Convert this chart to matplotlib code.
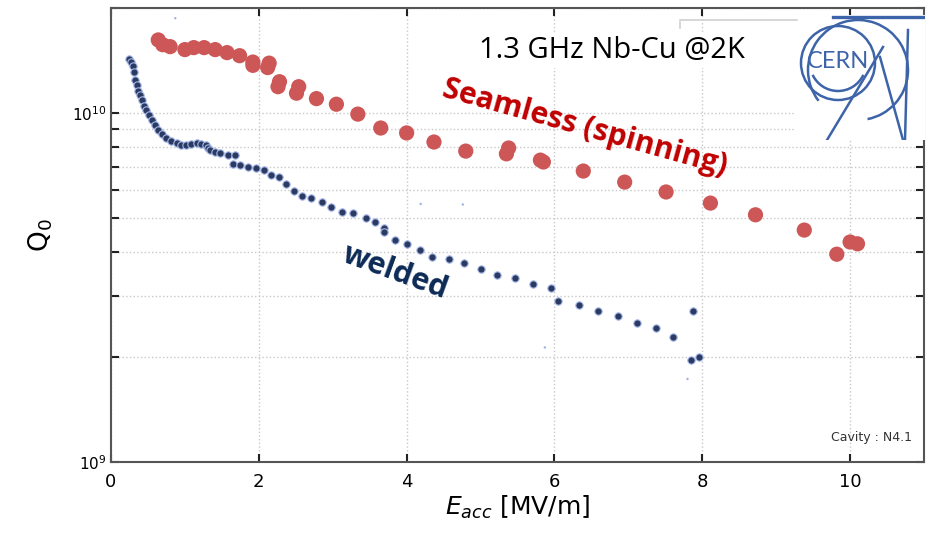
# Q0 vs accelerating field for a 1.3 GHz Nb-Cu cavity at 2K (seamless vs welded)
import matplotlib
matplotlib.use("Agg")
import matplotlib.pyplot as plt
from matplotlib.patches import Circle, Arc
from matplotlib.lines import Line2D
from matplotlib.ticker import LogLocator, NullFormatter

# Seamless (spinning) cavity: Eacc [MV/m], Q0 [1e9]
seamless_e = [0.64, 0.70, 0.80, 1.00, 1.12, 1.26, 1.41, 1.57, 1.74, 1.92, 1.92, 2.14,
              2.12, 2.28, 2.26, 2.54, 2.51, 2.78, 3.05, 3.34, 3.65, 4.00, 4.37, 4.80,
              5.38, 5.35, 5.81, 5.85, 6.39, 6.95, 7.51, 8.11, 8.72, 9.38, 9.82, 10.00, 10.10]
seamless_q = [16.2, 15.7, 15.5, 15.2, 15.4, 15.4, 15.2, 14.9, 14.6, 14.0, 13.7, 13.9,
              13.5, 12.3, 11.9, 11.9, 11.4, 11.0, 10.6, 9.93, 9.06, 8.77, 8.26, 7.78,
              7.94, 7.64, 7.33, 7.24, 6.82, 6.34, 5.94, 5.52, 5.11, 4.62, 3.94, 4.27, 4.22]

# Welded cavity
welded_e = [0.25, 0.27, 0.30, 0.31, 0.32, 0.35, 0.37, 0.39, 0.42, 0.45, 0.48, 0.51,
            0.55, 0.60, 0.64, 0.69, 0.75, 0.81, 0.89, 0.95, 1.02, 1.08, 1.16, 1.22,
            1.29, 1.31, 1.34, 1.41, 1.47, 1.59, 1.68, 1.65, 1.74, 1.86, 1.96, 2.07,
            2.17, 2.28, 2.37, 2.47, 2.58, 2.71, 2.85, 2.98, 3.12, 3.28, 3.45, 3.57,
            3.69, 3.70, 3.84, 4.00, 4.18, 4.35, 4.57, 4.78, 5.01, 5.22, 5.46, 5.71,
            5.96, 6.05, 6.33, 6.59, 6.86, 7.12, 7.38, 7.61, 7.87, 7.85, 7.95]
welded_q = [14.3, 14.0, 13.6, 13.1, 12.4, 12.0, 11.6, 11.3, 10.9, 10.5, 10.2, 9.87,
            9.55, 9.24, 8.94, 8.71, 8.46, 8.31, 8.19, 8.12, 8.09, 8.15, 8.19, 8.15,
            8.09, 7.94, 7.83, 7.73, 7.66, 7.58, 7.58, 7.13, 7.10, 7.02, 6.97, 6.87,
            6.64, 6.57, 6.25, 5.98, 5.80, 5.70, 5.57, 5.39, 5.21, 5.17, 5.01, 4.88,
            4.68, 4.57, 4.33, 4.21, 4.05, 3.88, 3.82, 3.71, 3.57, 3.43, 3.37, 3.24,
            3.15, 2.90, 2.82, 2.71, 2.62, 2.50, 2.42, 2.28, 2.70, 1.96, 2.00]

# faint stray specks in the original scan
speck_e = [0.87, 4.19, 4.76, 5.87, 7.80]
speck_q = [18.7, 5.49, 5.47, 2.13, 1.73]

x_ticks = [0, 2, 4, 6, 8, 10]


def draw_logo(fig):
    # rough CERN logo in pixel-like coordinates (130 x 125 box)
    lg = fig.add_axes([795 / 931, 1 - 140 / 545, 130 / 931, 125 / 545])
    lg.set_xlim(0, 130)
    lg.set_ylim(0, 125)
    lg.axis('off')
    lg.add_patch(plt.Rectangle((0, 0), 130, 125, facecolor='white', edgecolor='none'))
    blue = '#3d64a8'
    lw = 1.8
    lg.add_patch(Circle((43, 77), 37, fill=False, edgecolor=blue, linewidth=lw))
    lg.add_patch(Arc((63, 70), 100, 100, theta1=-79, theta2=218,
                     edgecolor=blue, linewidth=lw))
    lg.add_patch(Arc((43, 77), 56, 56, theta1=205, theta2=335,
                     edgecolor=blue, linewidth=lw))
    lg.plot([113, 110], [110, 0], color=blue, linewidth=lw)
    lg.plot([85, 108], [83, 0], color=blue, linewidth=lw)
    lg.plot([88, 32], [93, 0], color=blue, linewidth=lw)
    lg.plot([38, 130], [123, 123], color=blue, linewidth=lw + 0.6)
    lg.text(43, 79, 'CERN', fontsize=17, color=blue, family='Lato',
            ha='center', va='center')


def main():
    fig = plt.figure(figsize=(9.31, 5.45), dpi=100)
    ax = fig.add_axes([0.1192, 0.1523, 0.8733, 0.833])

    ax.scatter(welded_e, [q * 1e9 for q in welded_q], s=28, color='#2b3a60',
               edgecolors='#a6b8ea', linewidths=0.8, zorder=3)
    ax.scatter(seamless_e, [q * 1e9 for q in seamless_q], s=120, color='#cd5656',
               edgecolors='none', zorder=3)
    ax.scatter(speck_e, [q * 1e9 for q in speck_q], s=3, color='#9fb2e6',
               edgecolors='none', zorder=3)

    ax.set_yscale('log')
    ax.set_xlim(0, 11)
    ax.set_ylim(1e9, 2e10)
    ax.set_xticks(x_ticks)
    ax.yaxis.set_major_locator(LogLocator(base=10))
    ax.yaxis.set_minor_locator(LogLocator(base=10, subs=range(2, 10)))
    ax.yaxis.set_minor_formatter(NullFormatter())
    ax.tick_params(which='both', direction='in', top=True, right=True,
                   length=6, width=1.5, color='#222222')
    ax.tick_params(axis='x', labelsize=13, pad=8)
    ax.tick_params(axis='y', labelsize=11)
    ax.grid(True, which='both', linestyle=':', color='#c8c8c8', linewidth=1.0)
    for sp in ax.spines.values():
        sp.set_color('#555555')
        sp.set_linewidth(1.5)

    ax.set_xlabel('$E_{acc}$ [MV/m]', fontsize=18, labelpad=2)
    ax.set_ylabel(r'$\mathrm{Q}_0$', fontsize=19, labelpad=12)

    ax.text(0.616, 0.907, '1.3 GHz Nb-Cu @2K', transform=ax.transAxes, fontsize=21,
            family='Open Sans', ha='center', va='center', zorder=5,
            bbox=dict(facecolor='white', edgecolor='none', pad=2))
    ax.text(0.583, 0.736, 'Seamless (spinning)', transform=ax.transAxes, fontsize=21.5,
            family='Open Sans', weight='bold', color='#c00000', rotation=-15.5,
            ha='center', va='center', zorder=5)
    ax.text(0.349, 0.418, 'welded', transform=ax.transAxes, fontsize=22,
            family='Open Sans', weight='bold', color='#0c2a55', rotation=-20,
            ha='center', va='center', zorder=5)
    ax.text(0.985, 0.04, 'Cavity : N4.1', transform=ax.transAxes, fontsize=9,
            color='#333333', ha='right', va='bottom', zorder=5)

    # faint legend frame corner partly hidden behind the logo
    fig.lines.append(Line2D([680 / 931, 797 / 931], [1 - 20 / 545, 1 - 20 / 545],
                            transform=fig.transFigure, color='#d0d0d0', linewidth=1.2))
    fig.lines.append(Line2D([680 / 931, 680 / 931], [1 - 22 / 545, 1 - 28 / 545],
                            transform=fig.transFigure, color='#d0d0d0', linewidth=1.2))

    draw_logo(fig)

    fig.savefig('out.png', dpi=100)


if __name__ == '__main__':
    main()
